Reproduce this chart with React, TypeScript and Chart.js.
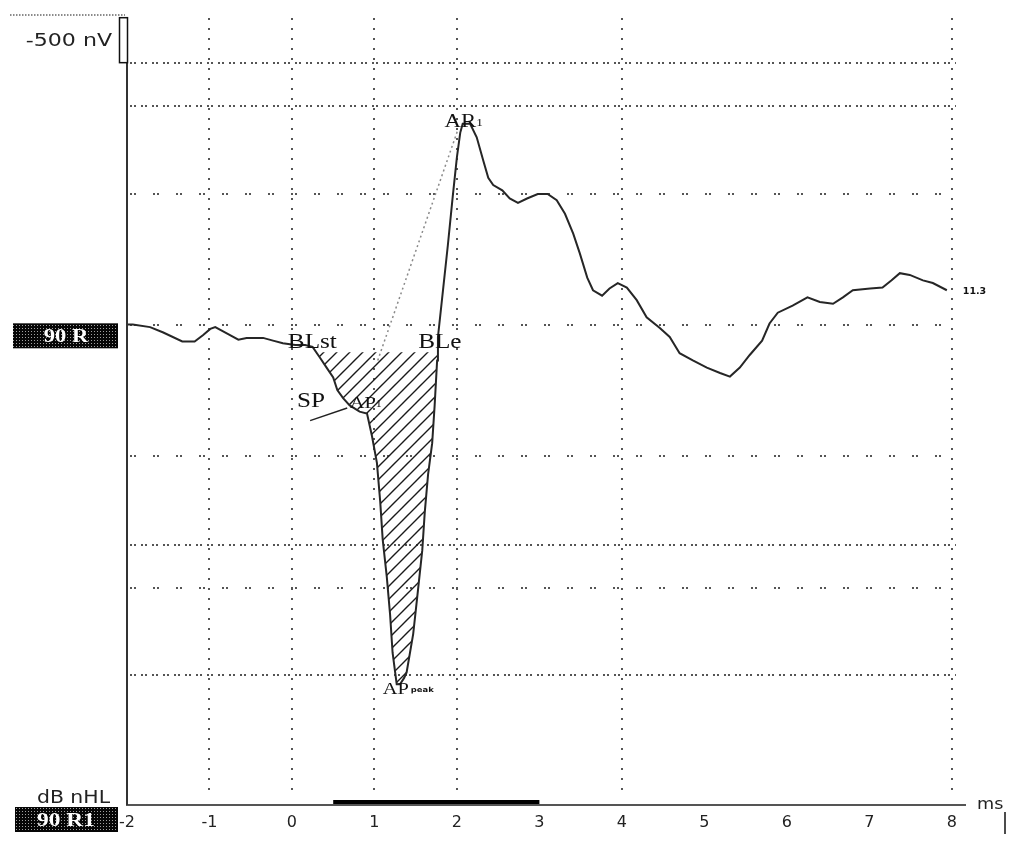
import React, { useEffect, useRef } from 'react';
import { Chart, registerables } from 'chart.js';

Chart.register(...registerables);

// Waveform (latency in ms, amplitude in nV; negative plotted upward)
const timeMs = [
  -2.0, -1.93, -1.72, -1.56, -1.33, -1.18, -1.08, -0.99, -0.93, -0.79, -0.65, -0.55, -0.35, -0.23, -0.11,
  0.04, 0.16, 0.25, 0.34, 0.42, 0.5, 0.55, 0.62, 0.7, 0.82, 0.91, 0.97, 1.03, 1.07, 1.1, 1.15, 1.19, 1.22,
  1.27, 1.31, 1.36, 1.39, 1.47, 1.52, 1.58, 1.61, 1.65, 1.7, 1.73, 1.76, 1.77, 1.83, 1.89, 1.95, 2.0, 2.04,
  2.07, 2.16, 2.24, 2.32, 2.38, 2.44, 2.55, 2.64, 2.74, 2.85, 2.98, 3.1, 3.21, 3.31, 3.41, 3.49, 3.58, 3.65,
  3.76, 3.85, 3.95, 4.06, 4.18, 4.3, 4.46, 4.58, 4.7, 4.86, 5.03, 5.19, 5.31, 5.43, 5.55, 5.7, 5.79, 5.89,
  6.07, 6.25, 6.4, 6.56, 6.68, 6.8, 7.01, 7.16, 7.27, 7.37, 7.49, 7.65, 7.77, 7.94,
];
const amplitudeNV = [
  -10, -10, 20, 80, 180, 180, 110, 40, 20, 90, 160, 140, 140, 170, 200,
  220, 220, 240, 360, 470, 580, 720, 810, 890, 960, 980, 1230, 1530, 1960, 2380, 2800, 3220, 3640,
  3990, 3990, 3920, 3860, 3430, 3010, 2500, 2080, 1660, 1310, 890, 390, 130, -380, -890, -1440, -1870, -2140,
  -2240, -2240, -2090, -1830, -1640, -1560, -1500, -1410, -1360, -1410, -1460, -1460, -1390, -1240, -1020, -800, -530, -390,
  -330, -410, -470, -420, -280, -90, 30, 130, 310, 390, 470, 530, 570, 470, 330, 170, -20, -140,
  -220, -310, -260, -240, -310, -390, -410, -420, -500, -580, -560, -500, -470, -390,
];

const xTicks = [-2, -1, 0, 1, 2, 3, 4, 5, 6, 7, 8];
const gridXms = [-1, 0, 1, 2, 4, 8];
const gridYdenseNV = [-2920, -2440, 2440, 3890];
const gridYsparseNV = [-1460, 0, 1450, 2920];

const xMinMs = -2;
const xMaxMs = 8.16;
const yMinNV = -3450;
const yMaxNV = 5333;

const blStartMs = 0.3;
const blEndMs = 1.765;
const baselineNV = 300;

const spLineMs = [0.22, 0.67];
const spLineNV = [1060, 920];
const guideMs = [1.04, 2.01];
const guideNV = [390, -2170];
const stimulusMs = [0.5, 3.0];
const stimulusNV = [5300, 5300];
const scaleBarNV = [-2920, -3420];

const endValueLabel = '11.3';

const markerText = ['BLst', 'BLe', 'SP', 'AP', 'AR', 'AP'];
const markerSub = ['', '', '', '1', '1', 'peak'];
const markerMs = [-0.05, 1.53, 0.06, 0.7, 1.85, 1.1];
const markerNV = [256, 256, 911, 922, -2200, 4100];
const markerSize = [21, 21, 21, 17, 19, 17];

function txt(
  ctx: CanvasRenderingContext2D,
  s: string,
  x: number,
  y: number,
  font: string,
  color: string,
  align: CanvasTextAlign = 'left',
  sx = 1.2,
  baseline: CanvasTextBaseline = 'alphabetic'
) {
  ctx.save();
  ctx.font = font;
  ctx.fillStyle = color;
  ctx.textAlign = align;
  ctx.textBaseline = baseline;
  ctx.translate(x, y);
  ctx.scale(sx, 1);
  ctx.fillText(s, 0, 0);
  const w = ctx.measureText(s).width * sx;
  ctx.restore();
  return w;
}

function makeHatch(): CanvasPattern | string {
  const c = document.createElement('canvas');
  const s = 13;
  c.width = s;
  c.height = s;
  const g = c.getContext('2d');
  if (!g) return '#ccc';
  g.strokeStyle = '#1a1a1a';
  g.lineWidth = 1.4;
  g.beginPath();
  g.moveTo(-1, s + 1);
  g.lineTo(s + 1, -1);
  g.moveTo(-2, 2);
  g.lineTo(2, -2);
  g.moveTo(s - 2, s + 2);
  g.lineTo(s + 2, s - 2);
  g.stroke();
  const p = g.createPattern(c, 'repeat');
  return p || '#ccc';
}

function makeHalftone(ctx: CanvasRenderingContext2D): CanvasPattern | string {
  const c = document.createElement('canvas');
  c.width = 3;
  c.height = 3;
  const g = c.getContext('2d');
  if (!g) return '#222';
  g.fillStyle = '#060606';
  g.fillRect(0, 0, 3, 3);
  g.fillStyle = '#a0a0a0';
  g.fillRect(1, 1, 1, 1);
  return ctx.createPattern(c, 'repeat') || '#222';
}

export default function App() {
  const ref = useRef<HTMLCanvasElement>(null);

  useEffect(() => {
    const canvas = ref.current;
    if (!canvas) return;
    const ctx0 = canvas.getContext('2d');
    if (!ctx0) return;
    const hatch = makeHatch();
    const halftone = makeHalftone(ctx0);

    const pts = timeMs.map((t, i) => ({ x: t, y: amplitudeNV[i] }));
    const trough = [
      { x: blStartMs, y: baselineNV },
      ...pts.filter((p) => p.x > blStartMs && p.x < blEndMs),
      { x: blEndMs, y: baselineNV },
    ];
    const spLine = spLineMs.map((t, i) => ({ x: t, y: spLineNV[i] }));
    const guide = guideMs.map((t, i) => ({ x: t, y: guideNV[i] }));
    const stim = stimulusMs.map((t, i) => ({ x: t, y: stimulusNV[i] }));

    const decor = {
      id: 'decor',
      beforeDatasetsDraw(chart: any) {
        const { ctx, chartArea } = chart;
        const xs = chart.scales.x;
        const ys = chart.scales.y;
        ctx.save();
        ctx.strokeStyle = '#555';
        ctx.lineWidth = 2;
        const hx0 = chartArea.left + 3;
        const hx1 = xs.getPixelForValue(8.05);
        const drawH = (v: number, dash: number[]) => {
          const y = Math.round(ys.getPixelForValue(v));
          ctx.setLineDash(dash);
          ctx.beginPath();
          ctx.moveTo(hx0, y);
          ctx.lineTo(hx1, y);
          ctx.stroke();
        };
        gridYdenseNV.forEach((v) => drawH(v, [2, 2, 2, 5]));
        gridYsparseNV.forEach((v) => drawH(v, [2, 2, 2, 17]));
        ctx.setLineDash([2, 8]);
        gridXms.forEach((v) => {
          const x = Math.round(xs.getPixelForValue(v));
          ctx.beginPath();
          ctx.moveTo(x, chartArea.top + 3);
          ctx.lineTo(x, chartArea.bottom - 8);
          ctx.stroke();
        });
        ctx.restore();
      },
      afterDraw(chart: any) {
        const { ctx, chartArea } = chart;
        const xs = chart.scales.x;
        const ys = chart.scales.y;
        ctx.save();
        // y axis line below the scale bar
        const barBottom = ys.getPixelForValue(scaleBarNV[0]);
        const barTop = ys.getPixelForValue(scaleBarNV[1]);
        ctx.strokeStyle = '#333';
        ctx.lineWidth = 2;
        ctx.setLineDash([]);
        ctx.beginPath();
        ctx.moveTo(chartArea.left, barBottom);
        ctx.lineTo(chartArea.left, chartArea.bottom);
        ctx.stroke();
        // scale bar rectangle
        ctx.fillStyle = '#fff';
        ctx.lineWidth = 1.5;
        ctx.strokeStyle = '#111';
        ctx.fillRect(chartArea.left - 7, barTop, 8, barBottom - barTop);
        ctx.strokeRect(chartArea.left - 7.5, barTop, 8, barBottom - barTop);
        // top dotted line
        ctx.strokeStyle = '#666';
        ctx.lineWidth = 1.5;
        ctx.setLineDash([1.5, 1.5]);
        ctx.beginPath();
        ctx.moveTo(10, chartArea.top);
        ctx.lineTo(chartArea.left - 2, chartArea.top);
        ctx.stroke();
        ctx.setLineDash([]);
        txt(ctx, '-500 nV', 112, (barTop + barBottom) / 2 + 6, '17px "DejaVu Sans"', '#222', 'right', 1.3);

        // channel label boxes
        const y0 = ys.getPixelForValue(0);
        ctx.fillStyle = halftone;
        ctx.fillRect(13, y0 - 2, 105, 25);
        txt(ctx, '90 R', 66, y0 + 17, 'bold 18px "Liberation Serif"', '#fff', 'center', 1.25);
        ctx.fillStyle = halftone;
        ctx.fillRect(15, chartArea.bottom + 2, 103, 25);
        txt(ctx, '90 R1', 66, chartArea.bottom + 21, 'bold 18px "Liberation Serif"', '#fff', 'center', 1.3);
        txt(ctx, 'dB nHL', 110, chartArea.bottom - 2, '17px "DejaVu Sans"', '#222', 'right', 1.2);

        // ms unit and small marker line
        txt(ctx, 'ms', chartArea.right + 12, chartArea.bottom + 4, '16px "DejaVu Sans"', '#222', 'left', 1.1);
        ctx.strokeStyle = '#111';
        ctx.lineWidth = 1.5;
        ctx.beginPath();
        ctx.moveTo(chartArea.right + 40, chartArea.bottom + 7);
        ctx.lineTo(chartArea.right + 40, chartArea.bottom + 29);
        ctx.stroke();

        // end value
        const lastX = xs.getPixelForValue(timeMs[timeMs.length - 1]);
        const lastY = ys.getPixelForValue(amplitudeNV[amplitudeNV.length - 1]);
        txt(ctx, endValueLabel, lastX + 16, lastY + 4, 'bold 9px "DejaVu Sans"', '#111', 'left', 1.05);

        // marker labels
        markerText.forEach((t, i) => {
          const px = xs.getPixelForValue(markerMs[i]);
          const py = ys.getPixelForValue(markerNV[i]);
          const size = markerSize[i];
          const w = txt(ctx, t, px, py, `${size}px "Liberation Serif"`, '#111', 'left', 1.2);
          if (markerSub[i]) {
            if (markerSub[i].length > 1) {
              txt(ctx, markerSub[i], px + w + 2, py - 2, 'bold 7px "DejaVu Sans"', '#111', 'left', 1.2);
            } else {
              txt(ctx, markerSub[i], px + w, py - 1, `${Math.round(size * 0.6)}px "Liberation Serif"`, '#111', 'left', 1.2);
            }
          }
        });
        ctx.restore();
      },
    };

    const chart = new Chart(canvas, {
      type: 'line',
      data: {
        datasets: [
          { data: pts, borderColor: '#262626', borderWidth: 2, pointRadius: 0, tension: 0, fill: false },
          { data: spLine, borderColor: '#222', borderWidth: 1.5, pointRadius: 0, fill: false },
          { data: guide, borderColor: '#8a8a8a', borderWidth: 1.5, borderDash: [2, 3], pointRadius: 0, fill: false },
          { data: stim, borderColor: '#000', borderWidth: 4, pointRadius: 0, fill: false },
          {
            data: trough,
            borderWidth: 0,
            borderColor: 'rgba(0,0,0,0)',
            backgroundColor: hatch as any,
            pointRadius: 0,
            fill: { value: baselineNV },
          },
        ],
      },
      options: {
        responsive: false,
        animation: false,
        events: [],
        layout: { padding: { left: 127, top: 15, right: 59, bottom: 29 } },
        plugins: { legend: { display: false }, tooltip: { enabled: false } },
        scales: {
          x: {
            type: 'linear',
            min: xMinMs,
            max: xMaxMs,
            afterBuildTicks: (s: any) => {
              s.ticks = xTicks.map((v) => ({ value: v }));
            },
            afterFit: (s: any) => {
              s.height = 30;
            },
            ticks: {
              font: { family: 'DejaVu Sans', size: 16 },
              color: '#222',
              padding: 8,
              maxRotation: 0,
              autoSkip: false,
            },
            grid: { display: false, drawTicks: false },
            border: { display: true, color: '#555', width: 2 },
          },
          y: { type: 'linear', reverse: true, min: yMinNV, max: yMaxNV, display: false },
        },
      },
      plugins: [decor],
    });
    return () => chart.destroy();
  }, []);

  return (
    <div style={{ position: 'fixed', left: 0, top: 0, width: 1024, height: 864, background: '#fff' }}>
      <canvas ref={ref} width={1024} height={864} />
    </div>
  );
}
